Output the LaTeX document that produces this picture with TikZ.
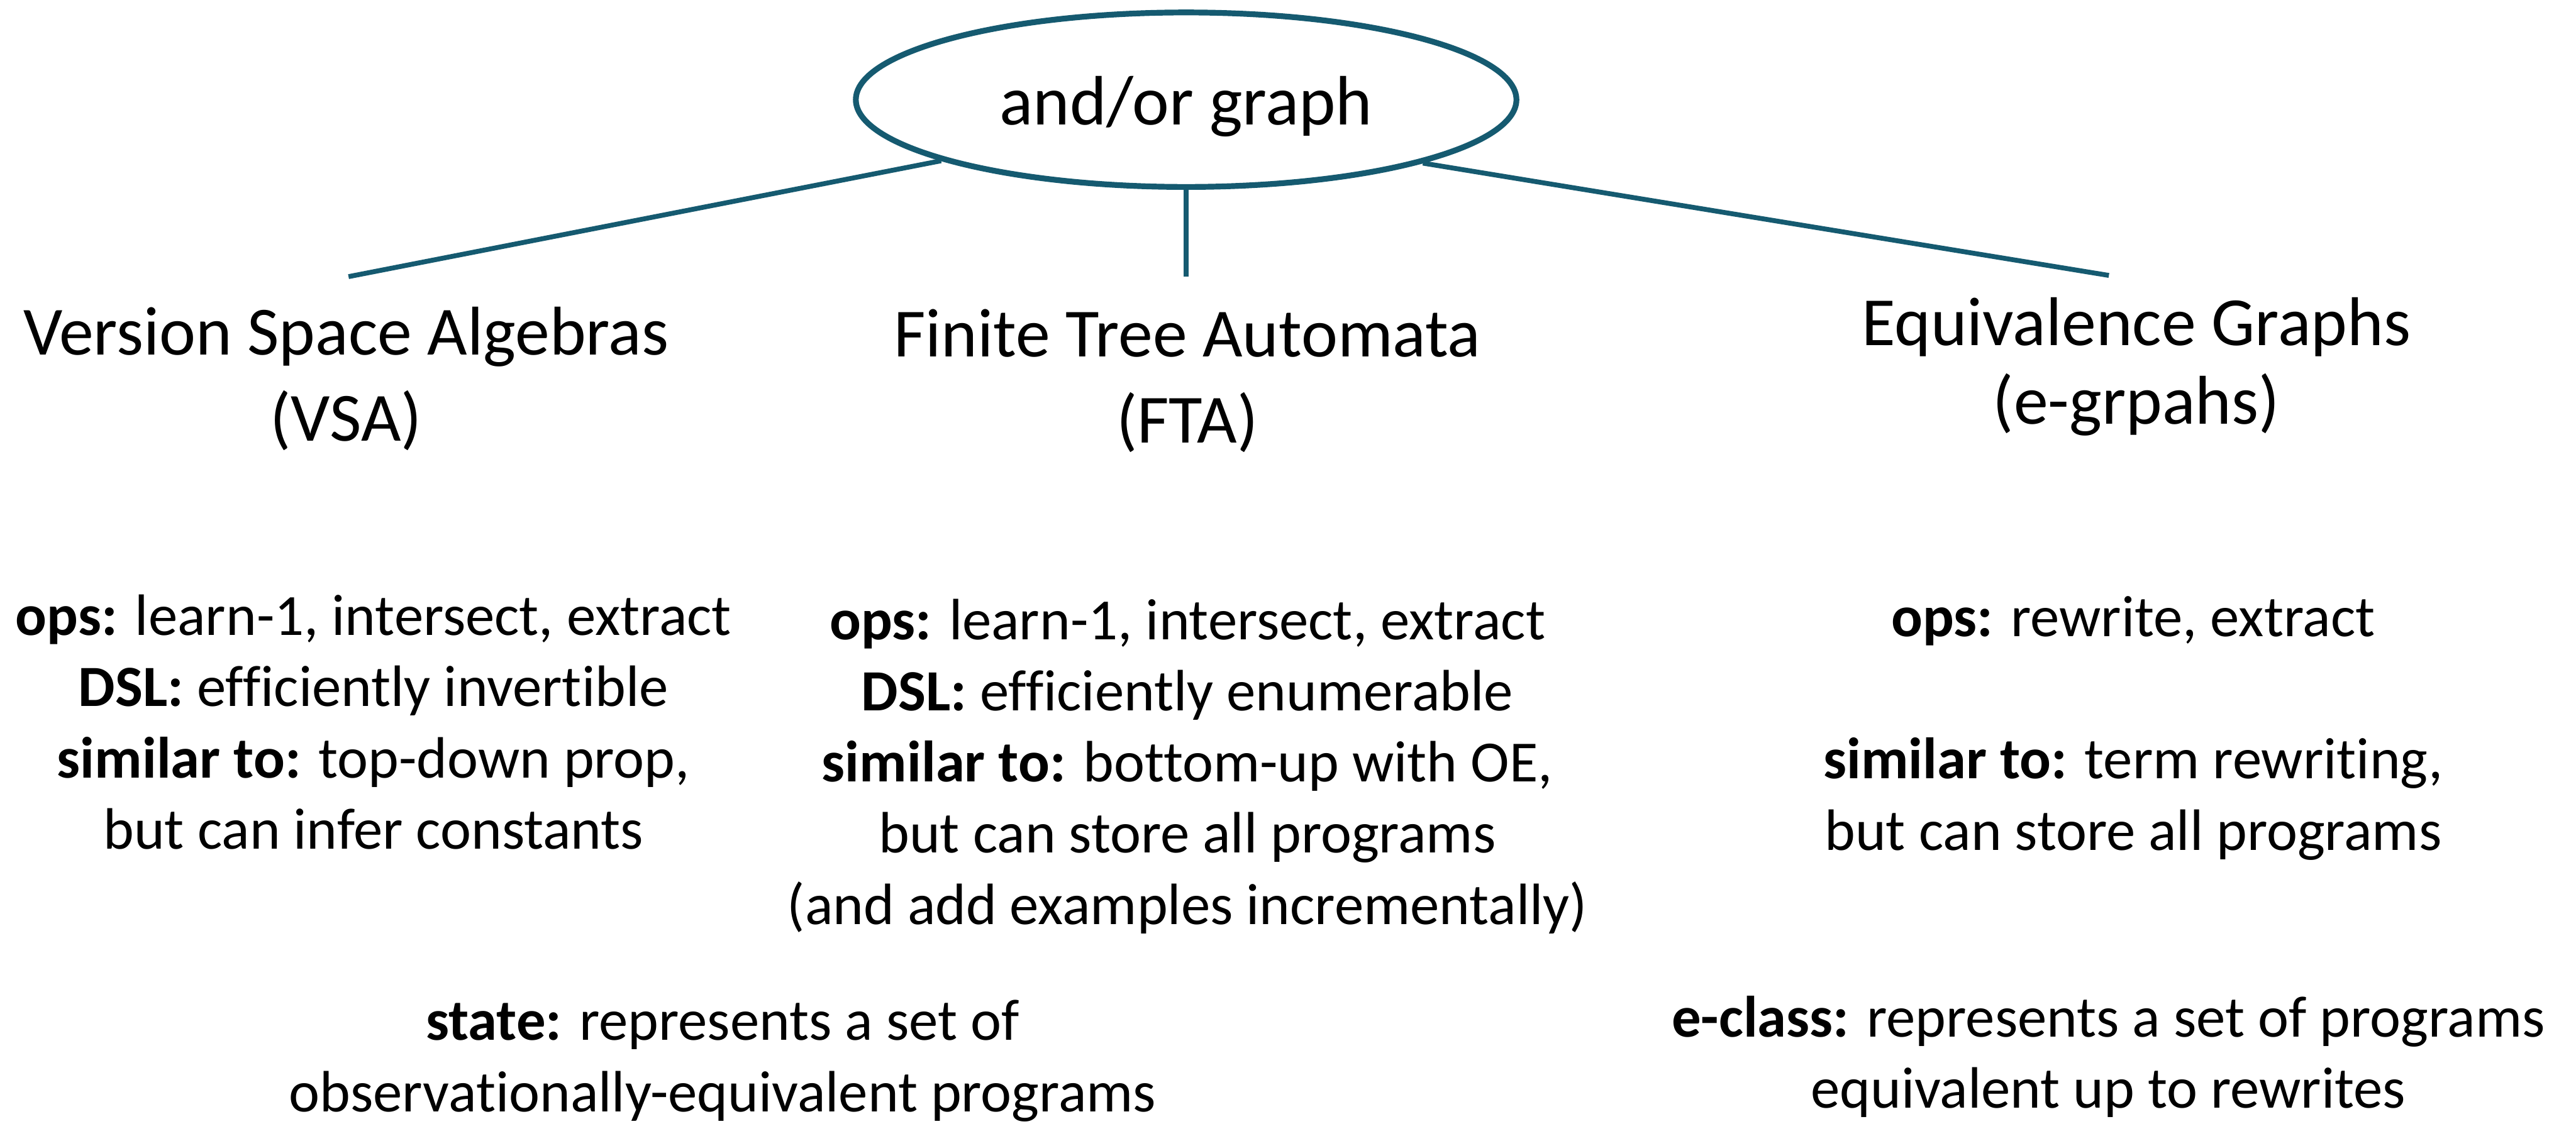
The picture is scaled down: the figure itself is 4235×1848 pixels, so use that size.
\documentclass[tikz,border=0pt]{standalone}
\usepackage{fontspec}
\setmainfont[Ligatures=NoCommon]{Carlito}
\usetikzlibrary{shapes.geometric}
\definecolor{teal1}{HTML}{155A70}
\begin{document}
\begin{tikzpicture}[x=0.2pt,y=-0.2pt,
  conn/.style={draw=teal1,line width=1.6pt},
  titlebox/.style={align=center,anchor=base,inner sep=0pt,font=\fontsize{22.7}{28.2}\selectfont},
  bodybox/.style={align=center,anchor=base,inner sep=0pt,font=\fontsize{19.2}{23.4}\selectfont}]
\useasboundingbox[fill=white] (0,0) rectangle (4235,1848);

\node[ellipse,draw=teal1,line width=1.9pt,inner sep=0pt,
      minimum width=217.2pt,minimum height=57.4pt,
      text height=17.6pt,text depth=1.2pt,
      font=\fontsize{23}{28}\selectfont] (root) at (1950,164) {and/or graph};

\coordinate (lend) at (573,455);
\coordinate (mend) at (1950,455);
\coordinate (rend) at (3467,453);
\draw[conn] (root.194.8) -- (lend);
\draw[conn] (root.south) -- (mend);
\draw[conn] (root.345.3) -- (rend);

\node[titlebox] (vsa) at (569,725) {Version Space Algebras\\(VSA)};
\node[titlebox] (fta) at (1952,728) {Finite Tree Automata\\(FTA)};
\node[titlebox,font=\fontsize{22.7}{25.8}\selectfont] (eg) at (3512,697) {Equivalence Graphs\\(e-grpahs)};

\node[bodybox] (vsabody) at (614,1396) {\textbf{ops:} learn-1, intersect, extract\\
\textbf{DSL:} efficiently invertible\\
\textbf{similar to:} top-down prop,\\
but can infer constants};

\node[bodybox] (ftabody) at (1952,1520) {\textbf{ops:} learn-1, intersect, extract\\
\textbf{DSL:} efficiently enumerable\\
\textbf{similar to:} bottom-up with OE,\\
but can store all programs\\
(and add examples incrementally)};

\node[bodybox] (egbody) at (3507,1398) {\textbf{ops:} rewrite, extract\\[23.4pt]
\textbf{similar to:} term rewriting,\\
but can store all programs};

\node[bodybox] (state) at (1188,1828) {\textbf{state:} represents a set of\\
observationally-equivalent programs};

\node[bodybox] (eclass) at (3466,1822) {\textbf{e-class:} represents a set of programs\\
equivalent up to rewrites};
\end{tikzpicture}
\end{document}
